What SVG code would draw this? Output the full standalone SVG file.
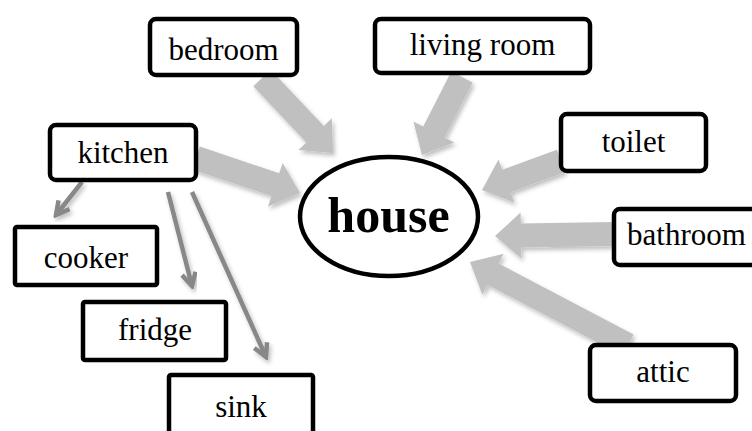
<svg xmlns="http://www.w3.org/2000/svg" width="752" height="431" viewBox="0 0 752 431">
<defs>
<style>
.box{fill:#fff;stroke:#000;stroke-width:4.5}
.lbl{font-family:"Liberation Serif","Times New Roman",serif;font-size:31px;fill:#000;text-anchor:middle}
.big{fill:#c0c0c0;filter:url(#sh)}
.thin{stroke:#888;stroke-width:4.5;fill:none;marker-end:url(#chev);filter:url(#sh)}
</style>
<filter id="sh" x="-20%" y="-20%" width="140%" height="140%">
<feDropShadow dx="2" dy="3" stdDeviation="2" flood-color="#000" flood-opacity="0.25"/>
</filter>
<marker id="chev" markerUnits="userSpaceOnUse" viewBox="0 0 20 20" refX="17" refY="10" markerWidth="20" markerHeight="20" orient="auto">
<path d="M4,3 L17,10 L4,17" fill="none" stroke="#888" stroke-width="4.5" stroke-linejoin="miter"/>
</marker>
</defs>
<g id="connectors">
<polygon class="big" points="253.3,86.3 306.4,142.4 298.4,149.9 333,153 331.8,118.3 323.8,125.9 270.7,69.8"/>
<polygon class="big" points="451.3,71.5 423.2,126.4 413.4,121.4 422,155 454.3,142.4 444.5,137.4 472.7,82.5"/>
<polygon class="big" points="192.2,169.4 271.5,196.1 268.0,206.5 300,193 282.7,162.9 279.2,173.3 199.8,146.6"/>
<polygon class="big" points="556.9,149.7 502.3,169.8 498.5,159.5 482,190 514.3,202.6 510.6,192.3 565.1,172.3"/>
<polygon class="big" points="614.8,222 520.8,223.6 520.6,212.6 495,236 521.4,258.6 521.2,247.6 615.2,246"/>
<polygon class="big" points="633.6,334.4 498.6,263.5 503.7,253.7 470,262 482.3,294.5 487.4,284.7 622.4,355.6"/>
<line class="thin" x1="82" y1="182" x2="56" y2="215"/>
<line class="thin" x1="168" y1="192" x2="192" y2="286"/>
<line class="thin" x1="192" y1="192" x2="266" y2="357"/>
</g>
<g id="house">
<ellipse cx="389" cy="216.5" rx="89" ry="59.5" fill="#fff" stroke="#000" stroke-width="4.5"/>
<text x="388.5" y="232" style="font-family:'Liberation Serif','Times New Roman',serif;font-size:50px;font-weight:bold;text-anchor:middle">house</text>
</g>
<g id="bedroom"><rect class="box" x="150" y="19" width="147" height="56" rx="6"/><text class="lbl" x="223.5" y="60">bedroom</text></g>
<g id="living-room"><rect class="box" x="375" y="19" width="215" height="54" rx="6"/><text class="lbl" x="482.5" y="55">living room</text></g>
<g id="kitchen"><rect class="box" x="50" y="125" width="146" height="55" rx="6"/><text class="lbl" x="123" y="163">kitchen</text></g>
<g id="cooker"><rect class="box" x="15" y="227" width="142" height="58" rx="2"/><text class="lbl" x="86" y="268">cooker</text></g>
<g id="fridge"><rect class="box" x="83" y="302" width="143" height="58" rx="2"/><text class="lbl" x="155" y="340">fridge</text></g>
<g id="sink"><rect class="box" x="169" y="375" width="144" height="62" rx="2"/><text class="lbl" x="241" y="417">sink</text></g>
<g id="toilet"><rect class="box" x="561" y="114" width="145" height="57" rx="6"/><text class="lbl" x="633.5" y="152">toilet</text></g>
<g id="bathroom"><rect class="box" x="614" y="209" width="145" height="56" rx="6"/><text class="lbl" x="686.5" y="245">bathroom</text></g>
<g id="attic"><rect class="box" x="590" y="345" width="146" height="56" rx="6"/><text class="lbl" x="663" y="382">attic</text></g>
</svg>
